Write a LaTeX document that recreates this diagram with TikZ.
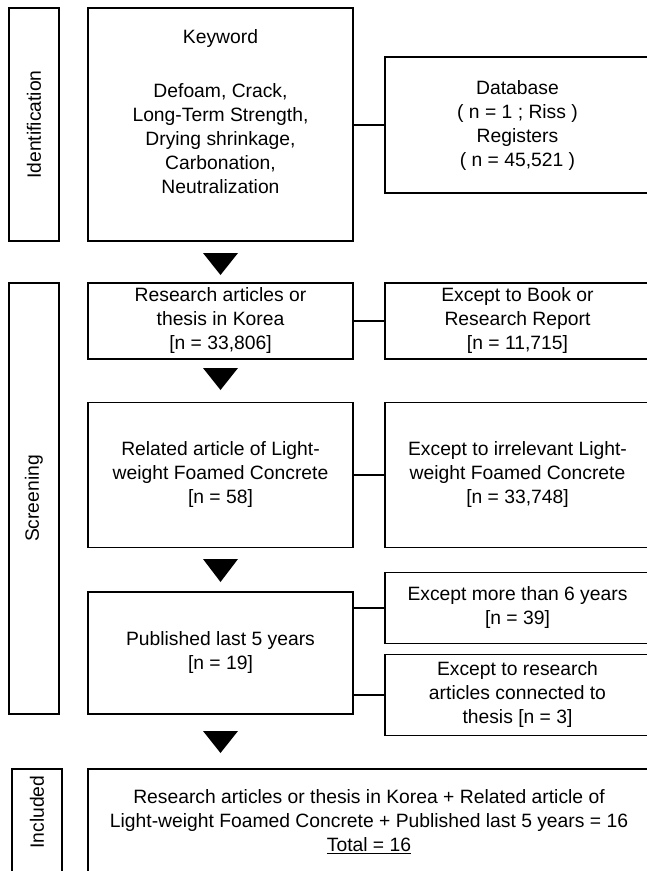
\documentclass[tikz,border=0pt]{standalone}
\usepackage{fontspec}
\setmainfont{Liberation Sans}
\begin{document}
\begin{tikzpicture}[x=1pt,y=-1pt,
  box/.style={draw,line width=1.8pt,inner sep=0pt,align=center,
    font=\fontsize{19.3}{24}\selectfont},
  txt/.style={align=center,inner sep=0pt,font=\fontsize{19.3}{24}\selectfont},
  side/.style={rotate=90,inner sep=0pt,font=\fontsize{19.3}{24}\selectfont},
  link/.style={line width=1.8pt},
  tri/.style={fill=black}]
\useasboundingbox (0,0) rectangle (647,871);
\clip (0,0) rectangle (647,871);
% side boxes
\node[box,minimum width=50pt,minimum height=233pt] (idbox) at (34,124.5) {};
\node[side] (idlab) at (34,124.5) {Identification};
\node[box,minimum width=50pt,minimum height=431pt] (scbox) at (34,498.5) {};
\node[side] (sclab) at (34,498.5) {Screening};
\node[box,minimum width=50pt,minimum height=111pt] (inbox) at (37,824.5) {};
\node[side] (inlab) at (37,812) {Included};
% identification
\node[box,minimum width=265pt,minimum height=233pt] (kw) at (220.5,124.5) {};
\node[txt] (kwtext) at (220.5,112) {Keyword\\[30pt]Defoam, Crack,\\Long-Term Strength,\\Drying shrinkage,\\Carbonation,\\Neutralization};
\node[box,minimum width=265pt,minimum height=136pt] (db) at (517.5,125) {Database\\( n = 1 ; Riss )\\Registers\\( n = 45,521 )};
% screening
\node[box,minimum width=265pt,minimum height=76pt] (ra) at (220.5,321) {Research articles or\\thesis in Korea\\{[}n = 33,806{]}};
\node[box,minimum width=265pt,minimum height=76pt] (bk) at (517.5,321) {Except to Book or\\Research Report\\{[}n = 11,715{]}};
\node[box,minimum width=265pt,minimum height=145pt] (rel) at (220.5,475) {Related article of Light-\\weight Foamed Concrete\\{[}n = 58{]}};
\node[box,minimum width=265pt,minimum height=145pt] (irr) at (517.5,475) {Except to irrelevant Light-\\weight Foamed Concrete\\{[}n = 33,748{]}};
\node[box,minimum width=265pt,minimum height=122pt] (pub) at (220.5,653) {Published last 5 years\\{[}n = 19{]}};
\node[box,minimum width=265pt,minimum height=71pt] (six) at (517.5,608) {Except more than 6 years\\{[}n = 39{]}};
\node[box,minimum width=265pt,minimum height=81pt] (ths) at (517.5,695) {Except to research\\articles connected to\\thesis {[}n = 3{]}};
% included
\node[box,minimum width=562pt,minimum height=111pt] (fin) at (369,824.5) {};
\node[txt] (fintext) at (369,822) {Research articles or thesis in Korea + Related article of\\Light-weight Foamed Concrete + Published last 5 years = 16\\\underline{Total = 16}};
% connectors
\draw[link] (kw.east |- db.west) -- (db.west);
\draw[link] (ra.east) -- (bk.west);
\draw[link] (rel.east) -- (irr.west);
\draw[link] (pub.east |- six.west) -- (six.west);
\draw[link] (pub.east |- ths.west) -- (ths.west);
% triangles
\fill[tri] (203,253) -- (238,253) -- (220.5,275) -- cycle;
\fill[tri] (203,368) -- (238,368) -- (220.5,390) -- cycle;
\fill[tri] (203,559) -- (238,559) -- (220.5,582) -- cycle;
\fill[tri] (203,731) -- (238,731) -- (220.5,753) -- cycle;
\end{tikzpicture}
\end{document}
